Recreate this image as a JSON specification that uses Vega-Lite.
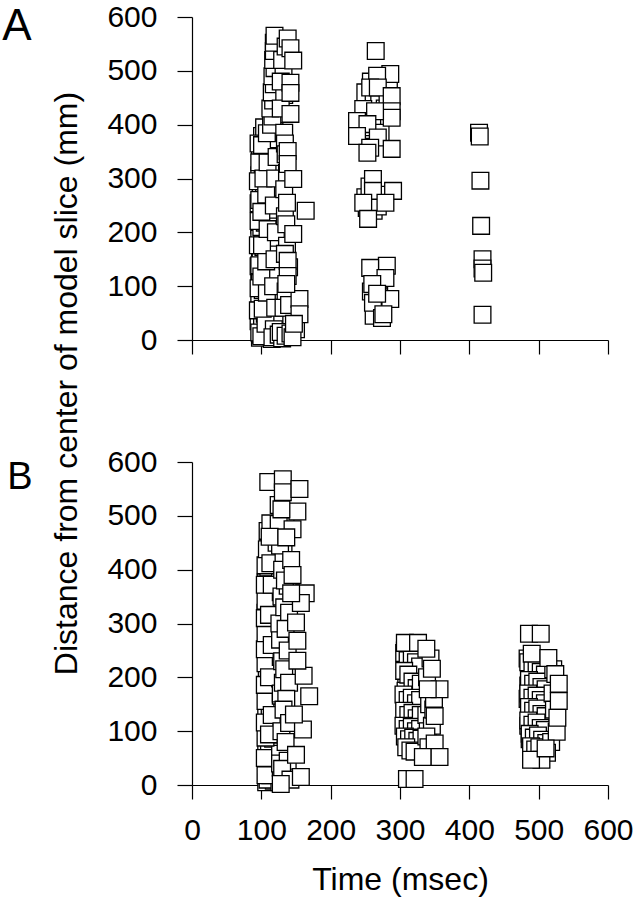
{
  "$schema": "https://vega.github.io/schema/vega-lite/v6.json",
  "padding": {"left": 2, "top": 2, "right": 11, "bottom": 4},
  "background": "white",
  "bounds": "flush",
  "spacing": 122,
  "config": {
    "view": {"stroke": null},
    "axis": {
      "grid": false,
      "labelFont": "Liberation Sans",
      "labelFontSize": 30,
      "labelColor": "black",
      "titleFont": "Liberation Sans",
      "titleFontSize": 32,
      "titleFontWeight": "normal",
      "titleColor": "black",
      "domainColor": "black",
      "tickColor": "black",
      "domainWidth": 1.2,
      "tickWidth": 1.2
    },
    "title": {"font": "Liberation Sans", "fontWeight": "normal", "color": "black"}
  },
  "datasets": {
    "a": [
      {"t":98,"d":4},{"t":104,"d":8},{"t":110,"d":12},{"t":100,"d":20},{"t":107,"d":26},{"t":113,"d":32},{"t":97,"d":40},{"t":103,"d":46},{"t":109,"d":52},{"t":101,"d":60},{"t":106,"d":68},{"t":112,"d":74},{"t":98,"d":82},{"t":104,"d":90},{"t":110,"d":96},{"t":100,"d":104},{"t":107,"d":112},{"t":113,"d":118},{"t":97,"d":126},{"t":103,"d":134},{"t":109,"d":140},{"t":101,"d":148},{"t":106,"d":156},{"t":112,"d":162},{"t":98,"d":170},{"t":104,"d":178},{"t":110,"d":184},{"t":100,"d":192},{"t":107,"d":200},{"t":113,"d":206},{"t":97,"d":214},{"t":103,"d":222},{"t":109,"d":228},{"t":101,"d":236},{"t":106,"d":244},{"t":112,"d":250},{"t":98,"d":258},{"t":104,"d":266},{"t":110,"d":272},{"t":100,"d":280},{"t":107,"d":288},{"t":113,"d":294},{"t":99,"d":302},{"t":103,"d":310},{"t":109,"d":316},{"t":101,"d":324},{"t":106,"d":332},{"t":112,"d":338},{"t":100,"d":346},{"t":104,"d":354},{"t":110,"d":360},{"t":102,"d":368},{"t":107,"d":376},{"t":113,"d":382},{"t":105,"d":390},
      {"t":99,"d":10},{"t":102,"d":17},{"t":106,"d":23},{"t":111,"d":29},{"t":96,"d":35},{"t":101,"d":43},{"t":105,"d":49},{"t":108,"d":57},{"t":99,"d":63},{"t":103,"d":71},{"t":111,"d":77},{"t":97,"d":86},{"t":102,"d":93},{"t":107,"d":100},{"t":112,"d":108},{"t":98,"d":115},{"t":104,"d":122},{"t":108,"d":130},{"t":96,"d":137},{"t":101,"d":144},{"t":106,"d":151},{"t":111,"d":158},{"t":99,"d":165},{"t":103,"d":173},{"t":108,"d":181},{"t":97,"d":188},{"t":102,"d":196},{"t":109,"d":203},{"t":100,"d":210},{"t":105,"d":218},{"t":110,"d":225},{"t":98,"d":232},{"t":103,"d":240},{"t":108,"d":247},{"t":96,"d":254},{"t":101,"d":262},{"t":106,"d":269},{"t":111,"d":276},{"t":99,"d":284},{"t":104,"d":291},{"t":109,"d":298},{"t":97,"d":306},{"t":102,"d":313},{"t":107,"d":320},{"t":112,"d":328},{"t":100,"d":335},{"t":105,"d":342},{"t":110,"d":350},{"t":98,"d":357},{"t":103,"d":364},{"t":108,"d":372},{"t":101,"d":379},{"t":106,"d":386},{"t":104,"d":395},
      {"t":115,"d":2},{"t":97,"d":14},{"t":119,"d":38},{"t":95,"d":55},{"t":114,"d":66},{"t":118,"d":84},{"t":96,"d":96},{"t":115,"d":111},{"t":120,"d":124},{"t":97,"d":139},{"t":113,"d":153},{"t":118,"d":167},{"t":95,"d":176},{"t":116,"d":190},{"t":119,"d":207},{"t":96,"d":221},{"t":114,"d":234},{"t":118,"d":242},{"t":97,"d":260},{"t":115,"d":268},{"t":120,"d":283},{"t":95,"d":295},{"t":114,"d":305},{"t":119,"d":318},{"t":97,"d":330},{"t":116,"d":344},{"t":118,"d":356},{"t":96,"d":365},{"t":115,"d":373},{"t":119,"d":388},{"t":100,"d":7},{"t":106,"d":30},{"t":102,"d":58},{"t":108,"d":88},{"t":100,"d":118},{"t":107,"d":146},{"t":101,"d":176},{"t":109,"d":206},{"t":100,"d":238},{"t":107,"d":270},{"t":103,"d":300},{"t":109,"d":330},{"t":101,"d":362},{"t":108,"d":384},
      {"t":118,"d":20},{"t":120,"d":60},{"t":117,"d":100},{"t":119,"d":150},{"t":121,"d":200},{"t":118,"d":250},{"t":120,"d":300},{"t":122,"d":340},{"t":116,"d":5},{"t":125,"d":10},{"t":130,"d":3},
      {"t":128,"d":15},{"t":135,"d":8},{"t":142,"d":12},{"t":150,"d":20},{"t":145,"d":5},
      {"t":114,"d":400},{"t":116,"d":415},{"t":113,"d":430},{"t":117,"d":445},{"t":115,"d":460},{"t":118,"d":475},{"t":116,"d":490},{"t":119,"d":505},{"t":117,"d":520},{"t":118,"d":537},{"t":118,"d":552},{"t":119,"d":565},
      {"t":133,"d":385},{"t":134,"d":365},{"t":135,"d":345},{"t":137,"d":310},{"t":133,"d":280},{"t":134,"d":230},{"t":136,"d":215},{"t":137,"d":175},{"t":134,"d":160},{"t":135,"d":90},{"t":132,"d":60},{"t":140,"d":135},{"t":140,"d":65},{"t":133,"d":455},{"t":132,"d":500},{"t":130,"d":520},{"t":135,"d":545},{"t":138,"d":560},{"t":128,"d":480},{"t":128,"d":430},
      {"t":142,"d":542},{"t":146,"d":519},{"t":142,"d":478},{"t":142,"d":459},{"t":142,"d":420},{"t":138,"d":351},{"t":138,"d":327},{"t":146,"d":299},{"t":137,"d":255},{"t":164,"d":240},{"t":146,"d":197},{"t":138,"d":147},{"t":138,"d":119},{"t":155,"d":76},{"t":155,"d":48},{"t":147,"d":30},{"t":136,"d":104},
      {"t":250,"d":460},{"t":262,"d":455},{"t":270,"d":440},{"t":278,"d":430},{"t":248,"d":390},{"t":260,"d":395},{"t":272,"d":385},{"t":284,"d":470},{"t":282,"d":445},{"t":258,"d":480},{"t":250,"d":265},{"t":256,"d":285},{"t":270,"d":265},{"t":275,"d":270},{"t":252,"d":245},{"t":262,"d":240},{"t":268,"d":248},{"t":262,"d":120},{"t":270,"d":100},{"t":258,"d":90},{"t":266,"d":60},{"t":271,"d":75},{"t":262,"d":45},{"t":276,"d":130},{"t":268,"d":110},
      {"t":265,"d":537},{"t":286,"d":494},{"t":267,"d":491},{"t":257,"d":469},{"t":268,"d":469},{"t":288,"d":453},{"t":288,"d":425},{"t":288,"d":413},{"t":247,"d":429},{"t":264,"d":425},{"t":238,"d":407},{"t":253,"d":401},{"t":238,"d":379},{"t":268,"d":376},{"t":257,"d":357},{"t":288,"d":355},{"t":253,"d":348},{"t":261,"d":299},{"t":290,"d":277},{"t":261,"d":277},{"t":279,"d":255},{"t":247,"d":255},{"t":254,"d":225},{"t":281,"d":138},{"t":257,"d":134},{"t":279,"d":115},{"t":260,"d":104},{"t":286,"d":76},{"t":261,"d":69},{"t":274,"d":41},{"t":276,"d":48},{"t":267,"d":86},
      {"t":414,"d":385},{"t":415,"d":378},{"t":416,"d":296},{"t":417,"d":212},{"t":419,"d":150},{"t":419,"d":133},{"t":420,"d":125},{"t":419,"d":47}
    ],
    "b": [
      {"t":107,"d":5},{"t":112,"d":12},{"t":118,"d":8},{"t":124,"d":15},{"t":109,"d":22},{"t":115,"d":30},{"t":121,"d":36},{"t":108,"d":45},{"t":114,"d":52},{"t":120,"d":60},{"t":126,"d":66},{"t":110,"d":75},{"t":116,"d":82},{"t":122,"d":90},{"t":108,"d":98},{"t":113,"d":106},{"t":119,"d":114},{"t":125,"d":120},{"t":110,"d":128},{"t":116,"d":136},{"t":122,"d":144},{"t":108,"d":152},{"t":114,"d":160},{"t":120,"d":168},{"t":126,"d":176},{"t":110,"d":184},{"t":116,"d":192},{"t":122,"d":200},{"t":108,"d":208},{"t":113,"d":216},{"t":119,"d":224},{"t":125,"d":232},{"t":109,"d":240},{"t":115,"d":248},{"t":121,"d":256},{"t":107,"d":264},{"t":113,"d":272},{"t":119,"d":280},{"t":124,"d":288},{"t":108,"d":296},{"t":114,"d":304},{"t":120,"d":312},{"t":106,"d":320},{"t":112,"d":328},{"t":118,"d":336},{"t":123,"d":344},{"t":107,"d":352},{"t":113,"d":360},{"t":119,"d":368},{"t":106,"d":376},{"t":112,"d":384},{"t":118,"d":392},{"t":108,"d":400},{"t":114,"d":410},{"t":120,"d":420},{"t":110,"d":430},{"t":116,"d":440},{"t":112,"d":452},{"t":118,"d":465},{"t":114,"d":478},
      {"t":109,"d":10},{"t":113,"d":18},{"t":117,"d":26},{"t":122,"d":34},{"t":108,"d":40},{"t":112,"d":48},{"t":118,"d":56},{"t":123,"d":63},{"t":107,"d":70},{"t":111,"d":78},{"t":117,"d":86},{"t":121,"d":94},{"t":109,"d":102},{"t":114,"d":110},{"t":118,"d":118},{"t":123,"d":126},{"t":107,"d":133},{"t":112,"d":141},{"t":117,"d":149},{"t":121,"d":157},{"t":109,"d":164},{"t":113,"d":172},{"t":118,"d":180},{"t":123,"d":188},{"t":108,"d":196},{"t":112,"d":204},{"t":117,"d":212},{"t":121,"d":220},{"t":109,"d":228},{"t":114,"d":236},{"t":119,"d":244},{"t":123,"d":252},{"t":107,"d":260},{"t":111,"d":268},{"t":116,"d":276},{"t":121,"d":284},{"t":109,"d":292},{"t":113,"d":300},{"t":118,"d":308},{"t":122,"d":316},{"t":108,"d":324},{"t":112,"d":332},{"t":117,"d":340},{"t":121,"d":348},{"t":109,"d":356},{"t":113,"d":364},{"t":118,"d":372},{"t":107,"d":380},{"t":111,"d":388},{"t":116,"d":396},{"t":110,"d":404},{"t":114,"d":414},{"t":118,"d":424},{"t":112,"d":434},{"t":116,"d":446},{"t":110,"d":456},{"t":114,"d":470},
      {"t":126,"d":5},{"t":106,"d":18},{"t":128,"d":32},{"t":105,"d":50},{"t":127,"d":58},{"t":106,"d":88},{"t":128,"d":96},{"t":105,"d":116},{"t":127,"d":138},{"t":106,"d":156},{"t":128,"d":166},{"t":105,"d":186},{"t":127,"d":198},{"t":106,"d":226},{"t":128,"d":238},{"t":105,"d":252},{"t":127,"d":262},{"t":106,"d":282},{"t":128,"d":296},{"t":105,"d":310},{"t":127,"d":322},{"t":106,"d":342},{"t":128,"d":358},{"t":105,"d":372},{"t":127,"d":392},{"t":106,"d":408},{"t":124,"d":420},{"t":108,"d":438},{"t":122,"d":450},{"t":109,"d":472},{"t":121,"d":478},{"t":113,"d":486},{"t":111,"d":94},{"t":115,"d":130},{"t":111,"d":200},{"t":115,"d":260},{"t":111,"d":316},{"t":115,"d":372},{"t":113,"d":412},
      {"t":127,"d":40},{"t":129,"d":100},{"t":128,"d":170},{"t":130,"d":230},{"t":127,"d":270},{"t":129,"d":350},{"t":131,"d":190},{"t":126,"d":300},
      {"t":132,"d":430},{"t":128,"d":470},{"t":135,"d":500},{"t":125,"d":520},{"t":130,"d":400},{"t":138,"d":370},{"t":133,"d":330},{"t":140,"d":320},{"t":135,"d":290},{"t":138,"d":250},{"t":133,"d":215},{"t":140,"d":190},{"t":136,"d":160},{"t":132,"d":140},{"t":140,"d":115},{"t":135,"d":80},{"t":138,"d":45},{"t":130,"d":30},{"t":142,"d":10},{"t":128,"d":2},{"t":125,"d":485},{"t":127,"d":445},{"t":134,"d":380},
      {"t":110,"d":563},{"t":131,"d":568},{"t":131,"d":544},{"t":155,"d":550},{"t":152,"d":508},{"t":129,"d":512},{"t":112,"d":461},{"t":145,"d":475},{"t":136,"d":460},{"t":143,"d":418},{"t":145,"d":390},{"t":164,"d":356},{"t":157,"d":338},{"t":143,"d":356},{"t":150,"d":302},{"t":152,"d":268},{"t":161,"d":203},{"t":169,"d":165},{"t":160,"d":103},{"t":157,"d":15},{"t":152,"d":231},{"t":147,"d":131},{"t":150,"d":56},
      {"t":307,"d":250},{"t":312,"d":240},{"t":318,"d":245},{"t":324,"d":235},{"t":308,"d":225},{"t":314,"d":215},{"t":320,"d":222},{"t":326,"d":210},{"t":332,"d":230},{"t":309,"d":200},{"t":315,"d":190},{"t":321,"d":198},{"t":327,"d":185},{"t":333,"d":205},{"t":308,"d":175},{"t":314,"d":165},{"t":320,"d":172},{"t":326,"d":160},{"t":332,"d":170},{"t":307,"d":150},{"t":313,"d":140},{"t":319,"d":148},{"t":325,"d":135},{"t":331,"d":145},{"t":309,"d":125},{"t":315,"d":115},{"t":321,"d":120},{"t":327,"d":110},{"t":333,"d":118},{"t":308,"d":100},{"t":314,"d":92},{"t":320,"d":98},{"t":326,"d":88},{"t":332,"d":95},{"t":310,"d":80},{"t":316,"d":72},{"t":322,"d":78},{"t":328,"d":68},{"t":334,"d":75},
      {"t":306,"d":245},{"t":311,"d":232},{"t":317,"d":238},{"t":323,"d":228},{"t":329,"d":220},{"t":306,"d":212},{"t":312,"d":205},{"t":318,"d":192},{"t":324,"d":180},{"t":330,"d":188},{"t":305,"d":168},{"t":311,"d":158},{"t":317,"d":162},{"t":323,"d":152},{"t":329,"d":158},{"t":306,"d":138},{"t":312,"d":130},{"t":318,"d":134},{"t":324,"d":124},{"t":330,"d":130},{"t":305,"d":110},{"t":311,"d":104},{"t":317,"d":108},{"t":323,"d":100},{"t":329,"d":104},{"t":307,"d":90},{"t":313,"d":85},{"t":319,"d":88},{"t":325,"d":82},{"t":331,"d":86},{"t":309,"d":70},{"t":315,"d":64},{"t":321,"d":62},
      {"t":338,"d":130},{"t":340,"d":100},{"t":342,"d":150},{"t":339,"d":200},{"t":344,"d":235},{"t":346,"d":110},{"t":348,"d":140},{"t":338,"d":90},{"t":341,"d":70},{"t":349,"d":160},
      {"t":307,"d":264},{"t":326,"d":264},{"t":338,"d":253},{"t":346,"d":216},{"t":357,"d":178},{"t":340,"d":178},{"t":350,"d":128},{"t":350,"d":77},{"t":333,"d":52},{"t":357,"d":52},{"t":310,"d":11},{"t":321,"d":11},
      {"t":484,"d":235},{"t":490,"d":225},{"t":496,"d":230},{"t":502,"d":218},{"t":486,"d":210},{"t":492,"d":200},{"t":498,"d":205},{"t":504,"d":195},{"t":510,"d":215},{"t":485,"d":185},{"t":491,"d":175},{"t":497,"d":180},{"t":503,"d":168},{"t":509,"d":190},{"t":515,"d":200},{"t":484,"d":160},{"t":490,"d":150},{"t":496,"d":155},{"t":502,"d":142},{"t":508,"d":165},{"t":514,"d":175},{"t":486,"d":135},{"t":492,"d":125},{"t":498,"d":130},{"t":504,"d":118},{"t":510,"d":140},{"t":516,"d":150},{"t":485,"d":110},{"t":491,"d":100},{"t":497,"d":105},{"t":503,"d":92},{"t":509,"d":115},{"t":515,"d":125},{"t":487,"d":85},{"t":493,"d":75},{"t":499,"d":80},{"t":505,"d":70},{"t":511,"d":90},{"t":518,"d":100},{"t":490,"d":60},{"t":496,"d":55},{"t":502,"d":62},
      {"t":485,"d":228},{"t":491,"d":218},{"t":497,"d":222},{"t":503,"d":210},{"t":509,"d":205},{"t":486,"d":195},{"t":492,"d":188},{"t":498,"d":192},{"t":504,"d":182},{"t":510,"d":178},{"t":485,"d":170},{"t":491,"d":162},{"t":497,"d":166},{"t":503,"d":158},{"t":509,"d":152},{"t":486,"d":145},{"t":492,"d":138},{"t":498,"d":142},{"t":504,"d":132},{"t":510,"d":128},{"t":485,"d":120},{"t":491,"d":112},{"t":497,"d":116},{"t":503,"d":106},{"t":509,"d":102},{"t":487,"d":95},{"t":493,"d":88},{"t":499,"d":92},{"t":505,"d":84},{"t":511,"d":78},{"t":489,"d":72},{"t":495,"d":66},{"t":501,"d":70},
      {"t":520,"d":170},{"t":522,"d":140},{"t":518,"d":80},{"t":512,"d":60},{"t":521,"d":215},
      {"t":486,"d":281},{"t":503,"d":281},{"t":490,"d":244},{"t":514,"d":236},{"t":524,"d":206},{"t":529,"d":188},{"t":529,"d":156},{"t":526,"d":99},{"t":504,"d":47},{"t":489,"d":47},{"t":510,"d":68},{"t":527,"d":125}
    ]
  },
  "vconcat": [
    {
      "width": 416,
      "height": 323,
      "data": {"name": "a"},
      "title": {"text": "A", "orient": "left", "anchor": "end", "frame": "group", "angle": 0, "align": "right", "baseline": "alphabetic", "offset": -11, "dy": 23, "fontSize": 44},
      "mark": {"type": "point", "shape": "square", "size": 280, "filled": true, "fill": "white", "fillOpacity": 1, "stroke": "black", "strokeWidth": 1.3, "opacity": 1},
      "encoding": {
        "x": {"field": "t", "type": "quantitative", "scale": {"domain": [0, 600], "nice": false, "zero": false},
              "axis": {"values": [0,100,200,300,400,500,600], "labels": false, "title": null, "tickSize": 14}},
        "y": {"field": "d", "type": "quantitative", "scale": {"domain": [0, 600], "nice": false},
              "axis": {"values": [0,100,200,300,400,500,600], "tickSize": 15, "labelPadding": 20,
                       "title": "Distance from center of model slice (mm)", "titleX": -116, "titleY": 366, "titleAngle": -90, "titleAlign": "center", "titleBaseline": "alphabetic"}}
      }
    },
    {
      "width": 416,
      "height": 323,
      "data": {"name": "b"},
      "title": {"text": "B", "orient": "left", "anchor": "end", "frame": "group", "angle": 0, "align": "right", "baseline": "alphabetic", "offset": 49, "dy": 27, "fontSize": 38},
      "mark": {"type": "point", "shape": "square", "size": 280, "filled": true, "fill": "white", "fillOpacity": 1, "stroke": "black", "strokeWidth": 1.3, "opacity": 1},
      "encoding": {
        "x": {"field": "t", "type": "quantitative", "scale": {"domain": [0, 600], "nice": false, "zero": false},
              "axis": {"values": [0,100,200,300,400,500,600], "tickSize": 14, "labelPadding": 16, "labelFlush": false,
                       "title": "Time (msec)", "titleY": 104, "titleBaseline": "alphabetic"}},
        "y": {"field": "d", "type": "quantitative", "scale": {"domain": [0, 600], "nice": false},
              "axis": {"values": [0,100,200,300,400,500,600], "tickSize": 15, "labelPadding": 20, "title": null}}
      }
    }
  ]
}
